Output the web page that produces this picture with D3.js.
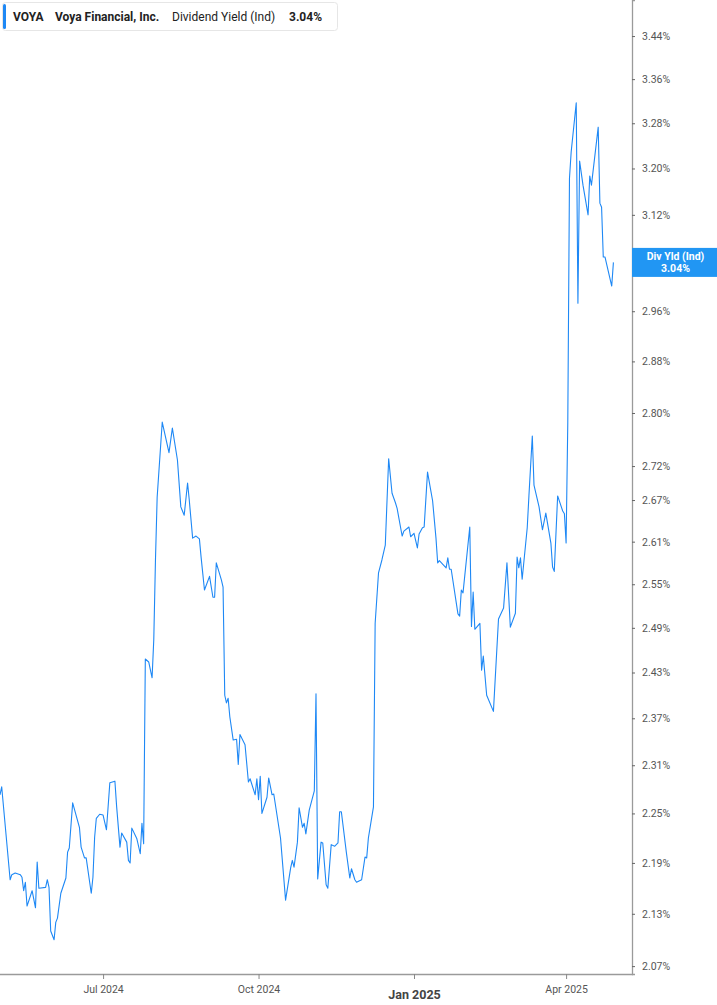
<!DOCTYPE html>
<html><head><meta charset="utf-8">
<script src="https://cdn.jsdelivr.net/npm/d3@7"></script>
<style>
body{margin:0;background:#fff;}
svg{display:block;font-family:Roboto,"Noto Sans",sans-serif;}
</style></head>
<body>
<svg id="c" width="717" height="1005"></svg>
<script>
const dates = ["2024-05-01","2024-05-02","2024-05-07","2024-05-08","2024-05-10","2024-05-13","2024-05-14","2024-05-15","2024-05-16","2024-05-17","2024-05-20","2024-05-22","2024-05-23","2024-05-24","2024-05-28","2024-05-29","2024-05-30","2024-05-31","2024-06-02","2024-06-03","2024-06-04","2024-06-06","2024-06-09","2024-06-10","2024-06-11","2024-06-13","2024-06-17","2024-06-18","2024-06-20","2024-06-21","2024-06-24","2024-06-25","2024-06-26","2024-06-27","2024-06-29","2024-07-01","2024-07-03","2024-07-05","2024-07-08","2024-07-09","2024-07-11","2024-07-12","2024-07-15","2024-07-16","2024-07-17","2024-07-18","2024-07-21","2024-07-23","2024-07-24","2024-07-25","2024-07-26","2024-07-28","2024-07-30","2024-07-31","2024-08-01","2024-08-02","2024-08-05","2024-08-09","2024-08-11","2024-08-14","2024-08-16","2024-08-18","2024-08-20","2024-08-21","2024-08-23","2024-08-25","2024-08-27","2024-08-28","2024-08-30","2024-09-02","2024-09-04","2024-09-05","2024-09-06","2024-09-09","2024-09-10","2024-09-11","2024-09-12","2024-09-13","2024-09-14","2024-09-16","2024-09-18","2024-09-19","2024-09-20","2024-09-23","2024-09-25","2024-09-26","2024-09-29","2024-09-30","2024-10-01","2024-10-02","2024-10-03","2024-10-06","2024-10-07","2024-10-09","2024-10-10","2024-10-14","2024-10-17","2024-10-20","2024-10-21","2024-10-22","2024-10-24","2024-10-25","2024-10-27","2024-10-28","2024-10-29","2024-10-31","2024-11-03","2024-11-04","2024-11-05","2024-11-07","2024-11-08","2024-11-10","2024-11-11","2024-11-13","2024-11-15","2024-11-17","2024-11-18","2024-11-19","2024-11-22","2024-11-24","2024-11-25","2024-11-27","2024-11-28","2024-12-01","2024-12-03","2024-12-04","2024-12-05","2024-12-08","2024-12-09","2024-12-11","2024-12-13","2024-12-15","2024-12-17","2024-12-19","2024-12-21","2024-12-22","2024-12-24","2024-12-25","2024-12-26","2024-12-29","2024-12-30","2025-01-01","2025-01-03","2025-01-04","2025-01-06","2025-01-07","2025-01-09","2025-01-12","2025-01-14","2025-01-15","2025-01-16","2025-01-20","2025-01-21","2025-01-22","2025-01-23","2025-01-27","2025-01-28","2025-01-29","2025-01-30","2025-02-03","2025-02-04","2025-02-05","2025-02-06","2025-02-09","2025-02-10","2025-02-11","2025-02-13","2025-02-17","2025-02-20","2025-02-23","2025-02-25","2025-02-27","2025-03-02","2025-03-03","2025-03-04","2025-03-05","2025-03-06","2025-03-09","2025-03-10","2025-03-12","2025-03-13","2025-03-16","2025-03-18","2025-03-20","2025-03-23","2025-03-24","2025-03-25","2025-03-27","2025-03-30","2025-03-31","2025-04-01","2025-04-02","2025-04-03","2025-04-04","2025-04-07","2025-04-08","2025-04-09","2025-04-11","2025-04-14","2025-04-15","2025-04-16","2025-04-20","2025-04-21","2025-04-22","2025-04-23","2025-04-24","2025-04-28","2025-04-29"];
const values = [2.273,2.283,2.170,2.176,2.178,2.176,2.173,2.157,2.167,2.139,2.157,2.137,2.191,2.160,2.161,2.170,2.161,2.110,2.100,2.120,2.125,2.154,2.172,2.203,2.208,2.263,2.233,2.209,2.196,2.196,2.154,2.173,2.221,2.244,2.249,2.248,2.230,2.288,2.290,2.259,2.209,2.226,2.215,2.193,2.190,2.232,2.219,2.201,2.238,2.213,2.448,2.444,2.423,2.474,2.584,2.674,2.786,2.740,2.777,2.729,2.660,2.648,2.695,2.670,2.615,2.618,2.614,2.588,2.542,2.561,2.532,2.532,2.580,2.556,2.546,2.400,2.390,2.396,2.372,2.342,2.343,2.311,2.349,2.336,2.289,2.293,2.273,2.293,2.267,2.296,2.250,2.270,2.294,2.273,2.274,2.220,2.146,2.184,2.193,2.185,2.215,2.257,2.233,2.238,2.225,2.254,2.278,2.402,2.171,2.215,2.214,2.164,2.160,2.212,2.210,2.214,2.252,2.252,2.202,2.172,2.183,2.170,2.167,2.170,2.197,2.196,2.220,2.258,2.496,2.566,2.584,2.605,2.731,2.680,2.666,2.658,2.631,2.618,2.625,2.631,2.617,2.622,2.601,2.621,2.630,2.631,2.711,2.669,2.615,2.580,2.583,2.573,2.587,2.571,2.571,2.509,2.506,2.542,2.538,2.631,2.492,2.539,2.488,2.496,2.433,2.452,2.400,2.379,2.502,2.517,2.580,2.491,2.510,2.588,2.573,2.587,2.557,2.630,2.676,2.765,2.692,2.660,2.627,2.651,2.608,2.574,2.568,2.676,2.654,2.650,2.608,2.785,3.183,3.229,3.317,2.973,3.213,3.171,3.120,3.187,3.171,3.273,3.140,3.133,3.049,3.049,3.001,3.040];
const yTicks = [2.07,2.13,2.19,2.25,2.31,2.37,2.43,2.49,2.55,2.61,2.67,2.72,2.80,2.88,2.96,3.04,3.12,3.20,3.28,3.36,3.44];
const xTickDates = ["2024-07-01","2024-10-01","2025-01-01","2025-04-01"];
const xTickLabels = ["Jul 2024","Oct 2024","Jan 2025","Apr 2025"];
const ticker = "VOYA", company = "Voya Financial, Inc.", metric = "Dividend Yield (Ind)";
const lastValue = 3.04, boxTitle = "Div Yld (Ind)";

const parse = d3.utcParse("%Y-%m-%d");
const W = 632, H = 974;
const x = d3.scaleUtc().domain([parse("2024-05-01"), parse("2025-05-10")]).range([0, W]);
const y = d3.scaleLog().domain([2.0611, 3.5084]).range([H, 0]);
const fmt = v => v.toFixed(2) + "%";
const svg = d3.select("#c");
const blue = "#1e88f5";
const axisCol = "#9a9a9a", labCol = "#555";

// line
const pts = dates.map((d, i) => [parse(d), values[i]]);
svg.append("path").datum(pts)
  .attr("fill", "none").attr("stroke", blue).attr("stroke-width", 1.1)
  .attr("stroke-linejoin", "round")
  .attr("d", d3.line().x(d => x(d[0])).y(d => y(d[1])));

// right axis (the label at the current value is covered by the value box)
const ya = svg.append("g").attr("transform", `translate(${W},0)`)
  .call(d3.axisRight(y).tickValues(yTicks)
    .tickFormat(v => Math.abs(v - lastValue) < 1e-9 ? "" : fmt(v))
    .tickSize(3).tickPadding(7));
ya.select(".domain").attr("stroke", axisCol).attr("stroke-width", 1.3);
ya.selectAll(".tick line").attr("stroke", "#666");
ya.selectAll(".tick text").attr("fill", labCol).attr("font-size", 10.5).attr("font-family", "Roboto");

// bottom axis
const xa = svg.append("g").attr("transform", `translate(0,${H})`)
  .call(d3.axisBottom(x).tickValues(xTickDates.map(parse)).tickFormat((d, i) => xTickLabels[i]).tickSize(5).tickPadding(7));
xa.select(".domain").attr("stroke", axisCol).attr("stroke-width", 1.3).attr("d", `M0,0.5H${W + 1}`);
xa.selectAll(".tick line").attr("stroke", "#888");
xa.selectAll(".tick text").attr("fill", labCol).attr("font-size", 10.5).attr("font-family", "Roboto")
  .filter((d, i) => xTickLabels[i].startsWith("Jan"))
  .attr("font-size", 12.5).attr("font-weight", "bold").attr("fill", "#444").attr("dy", "1.0em");

// current value box
const yl = y(lastValue);
svg.append("rect").attr("x", W).attr("y", yl - 14.5).attr("width", 717 - W).attr("height", 29).attr("fill", "#2196f3");
svg.append("text").attr("x", (W + 717) / 2 + 1).attr("y", yl - 2.5).attr("text-anchor", "middle")
  .attr("fill", "#fff").attr("font-size", 10.5).attr("font-weight", "bold").text(boxTitle);
svg.append("text").attr("x", (W + 717) / 2 + 1).attr("y", yl + 10).attr("text-anchor", "middle")
  .attr("fill", "#fff").attr("font-size", 10.5).attr("font-weight", "bold").text(fmt(lastValue));

// header legend
const hg = svg.append("g");
hg.append("rect").attr("x", 2.5).attr("y", 2.5).attr("width", 335).attr("height", 28).attr("rx", 3)
  .attr("fill", "#fff").attr("stroke", "#e6e6e6");
hg.append("rect").attr("x", 3).attr("y", 4).attr("width", 3).attr("height", 25).attr("rx", 1.5).attr("fill", blue);
const ht = hg.append("text").attr("y", 21).attr("font-size", 12).attr("fill", "#222");
ht.append("tspan").attr("x", 13).attr("font-weight", "bold").text(ticker);
ht.append("tspan").attr("x", 55).attr("font-weight", "bold").text(company);
ht.append("tspan").attr("x", 172).text(metric);
ht.append("tspan").attr("x", 289).attr("font-weight", "bold").text(fmt(lastValue));
</script>
</body></html>
